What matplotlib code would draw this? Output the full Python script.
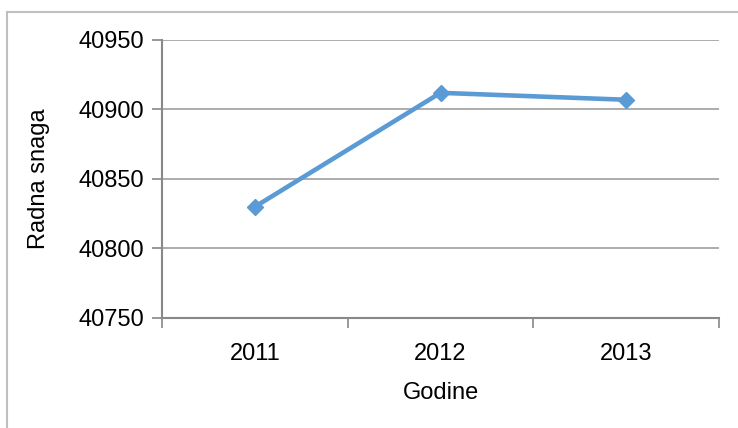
import matplotlib
matplotlib.use('Agg')
import matplotlib.pyplot as plt
from matplotlib.patches import Rectangle

# data
years = ['2011', '2012', '2013']
radna_snaga = [40830, 40912, 40907]
y_ticks = [40750, 40800, 40850, 40900, 40950]

plt.rcParams['font.family'] = ['Liberation Sans Narrow', 'Liberation Sans', 'DejaVu Sans']

fig = plt.figure(figsize=(7.38, 4.28), dpi=100)
ax = fig.add_axes([162 / 738, 1 - 318 / 428, (719 - 162) / 738, (318 - 40) / 428])

# outer chart frame (cut off at right and bottom)
fig.patches.append(Rectangle((7 / 738, -0.1), 1.2, 1 - 12 / 428 + 0.1,
                             transform=fig.transFigure, fill=False,
                             edgecolor='#bfbfbf', linewidth=1.5))

x = list(range(len(years)))
ax.plot(x, radna_snaga, color='#5B9BD5', linewidth=3.3, marker='D',
        markersize=8.5, zorder=3)

ax.set_xlim(-0.5, len(years) - 0.5)
ax.set_ylim(y_ticks[0], y_ticks[-1])
ax.set_yticks(y_ticks)
ax.set_yticklabels([str(v) for v in y_ticks], fontsize=17)

# category boundaries as major ticks, labels on minor ticks
ax.set_xticks([i - 0.5 for i in range(len(years) + 1)])
ax.set_xticklabels([])
ax.set_xticks(x, minor=True)
ax.set_xticklabels(years, minor=True, fontsize=17)
ax.tick_params(axis='x', which='minor', length=0, pad=18)
ax.tick_params(axis='x', which='major', length=7, width=1.2, color='#888888')
ax.tick_params(axis='y', length=7, width=1.2, color='#888888', pad=6)

ax.grid(axis='y', color='#a6a6a6', linewidth=1.3)
ax.set_axisbelow(True)
for side in ['top', 'right']:
    ax.spines[side].set_visible(False)
for side in ['left', 'bottom']:
    ax.spines[side].set_color('#888888')
    ax.spines[side].set_linewidth(1.5)

ax.set_ylabel('Radna snaga', fontsize=17, labelpad=20)
ax.set_xlabel('Godine', fontsize=17, labelpad=12)

fig.savefig('out.png', dpi=100)
